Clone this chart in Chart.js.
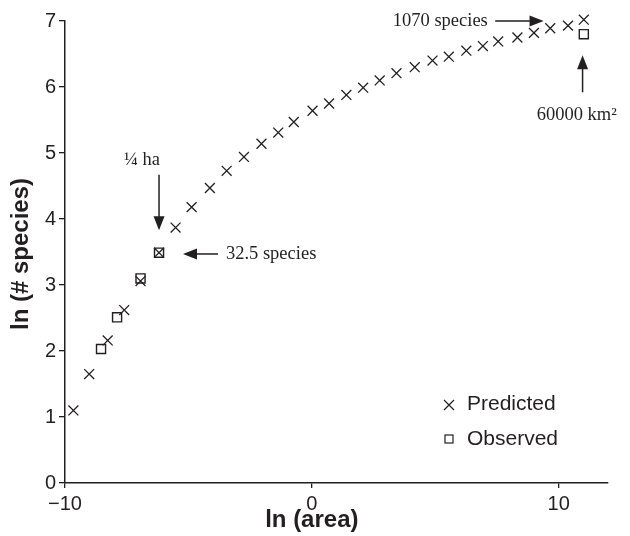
<!DOCTYPE html>
<html>
<head>
<meta charset="utf-8">
<script src="https://cdn.jsdelivr.net/npm/chart.js@4/dist/chart.umd.min.js"></script>
<style>
  html, body { margin: 0; padding: 0; background: #fff; }
</style>
</head>
<body>
<canvas id="myChart" width="630" height="536"></canvas>
<script>
// values
const predictedX = [-9.66, -9.02, -8.27, -7.60, -6.94, -6.19, -5.52, -4.87, -4.13, -3.45, -2.75,
  -2.04, -1.36, -0.73, 0.03, 0.70, 1.40, 2.08, 2.75, 3.43, 4.17, 4.89, 5.55, 6.26, 6.93,
  7.55, 8.33, 9.00, 9.66, 10.38, 11.02];
const predictedY = [1.10, 1.65, 2.16, 2.62, 3.06, 3.49, 3.87, 4.18, 4.47, 4.73, 4.94,
  5.14, 5.31, 5.47, 5.64, 5.75, 5.88, 5.99, 6.10, 6.21, 6.30, 6.40, 6.46, 6.55, 6.62,
  6.69, 6.75, 6.82, 6.89, 6.93, 7.02];
const observedX = [-8.54, -7.89, -6.94, -6.19, 11.02];
const observedY = [2.03, 2.51, 3.10, 3.49, 6.80];
const xTicks = [-10, 0, 10];
const yTicks = [0, 1, 2, 3, 4, 5, 6, 7];

// labels on the plot (data units)
const notes = [
    { text: '¼ ha', x: -6.88, y: 4.89, align: 'center' },
    { text: '32.5 species', x: -3.48, y: 3.47, align: 'left' },
    { text: '1070 species', x: 7.13, y: 7.0, align: 'right' },
    { text: '60000 km²', x: 9.11, y: 5.58, align: 'left' },
];
const arrows = [
    { from: [-6.19, 4.67], to: [-6.19, 3.83] },
    { from: [-3.80, 3.47], to: [-5.22, 3.47] },
    { from: [7.43, 7.0], to: [9.39, 7.0] },
    { from: [10.97, 5.92], to: [10.97, 6.48] },
];

const ink = '#231f20';
const sans = "'Liberation Sans', Arial, sans-serif";
const serif = "'Liberation Serif', 'Times New Roman', serif";

function drawArrow(ctx, x1, y1, x2, y2) {
    const a = Math.atan2(y2 - y1, x2 - x1);
    const len = 14, w = 5.5;
    const c = Math.cos(a), s = Math.sin(a);
    ctx.beginPath();
    ctx.moveTo(x1, y1);
    ctx.lineTo(x2 - c * len * 0.7, y2 - s * len * 0.7);
    ctx.stroke();
    ctx.beginPath();
    ctx.moveTo(x2, y2);
    ctx.lineTo(x2 - c * len - s * w, y2 - s * len + c * w);
    ctx.lineTo(x2 - c * len + s * w, y2 - s * len - c * w);
    ctx.closePath();
    ctx.fill();
}

const extras = {
    id: 'extras',
    afterDraw(chart) {
        const ctx = chart.ctx;
        const sx = chart.scales.x, sy = chart.scales.y;
        ctx.save();
        ctx.fillStyle = ink;
        ctx.strokeStyle = ink;

        // axis titles
        ctx.font = 'bold 24px ' + sans;
        ctx.textAlign = 'center';
        ctx.textBaseline = 'middle';
        ctx.fillText('ln (area)', sx.getPixelForValue(0), 520);
        ctx.save();
        ctx.translate(21, (chart.chartArea.top + chart.chartArea.bottom) / 2 + 2);
        ctx.rotate(-Math.PI / 2);
        ctx.fillText('ln (# species)', 0, 0);
        ctx.restore();

        // annotations
        ctx.font = '18.5px ' + serif;
        notes.forEach(n => {
            ctx.textAlign = n.align;
            ctx.fillText(n.text, sx.getPixelForValue(n.x), sy.getPixelForValue(n.y));
        });
        ctx.lineWidth = 1.5;
        arrows.forEach(a => {
            drawArrow(ctx, sx.getPixelForValue(a.from[0]), sy.getPixelForValue(a.from[1]),
                sx.getPixelForValue(a.to[0]), sy.getPixelForValue(a.to[1]));
        });

        // legend
        const lx = 449;
        ctx.lineWidth = 1.2;
        ctx.beginPath();
        ctx.moveTo(lx - 5, 400); ctx.lineTo(lx + 5, 410);
        ctx.moveTo(lx + 5, 400); ctx.lineTo(lx - 5, 410);
        ctx.stroke();
        ctx.strokeRect(lx - 4, 435, 8, 8);
        ctx.font = '21px ' + sans;
        ctx.textAlign = 'left';
        ctx.fillText('Predicted', 467, 404);
        ctx.fillText('Observed', 467, 439);
        ctx.restore();
    }
};

const config = {
    type: 'scatter',
    data: {
        datasets: [{
            label: 'Predicted',
            data: predictedX.map((x, i) => ({ x: x, y: predictedY[i] })),
            pointStyle: 'crossRot',
            pointRadius: 7,
            borderColor: ink,
            borderWidth: 1.3,
            backgroundColor: 'rgba(0,0,0,0)',
            clip: false
        }, {
            label: 'Observed',
            data: observedX.map((x, i) => ({ x: x, y: observedY[i] })),
            pointStyle: 'rect',
            pointRadius: 6.4,
            borderColor: ink,
            borderWidth: 1.4,
            backgroundColor: 'rgba(0,0,0,0)',
            clip: false
        }]
    },
    options: {
        responsive: false,
        animation: false,
        devicePixelRatio: 1,
        layout: {
            padding: { top: 21, right: 22, left: 0, bottom: 0 }
        },
        plugins: {
            legend: { display: false },
            tooltip: { enabled: false }
        },
        scales: {
            x: {
                type: 'linear',
                min: -10,
                max: 12,
                afterBuildTicks: s => { s.ticks = xTicks.map(v => ({ value: v })); },
                afterFit: s => { s.height = 53; },
                grid: { drawOnChartArea: false, tickLength: 5, color: ink, lineWidth: 1.3 },
                border: { color: ink, width: 1.5 },
                ticks: {
                    color: ink,
                    padding: 4,
                    maxRotation: 0,
                    font: { family: sans, size: 20 },
                    callback: v => String(v).replace('-', '\u2212')
                }
            },
            y: {
                type: 'linear',
                min: 0,
                max: 7,
                afterBuildTicks: s => { s.ticks = yTicks.map(v => ({ value: v })); },
                afterFit: s => { s.width = 65; },
                grid: { drawOnChartArea: false, tickLength: 6, color: ink, lineWidth: 1.3 },
                border: { color: ink, width: 1.5 },
                ticks: {
                    color: ink,
                    padding: 3,
                    font: { family: sans, size: 20 }
                }
            }
        }
    },
    plugins: [extras]
};

const myChart = new Chart(document.getElementById('myChart'), config);
</script>
</body>
</html>
